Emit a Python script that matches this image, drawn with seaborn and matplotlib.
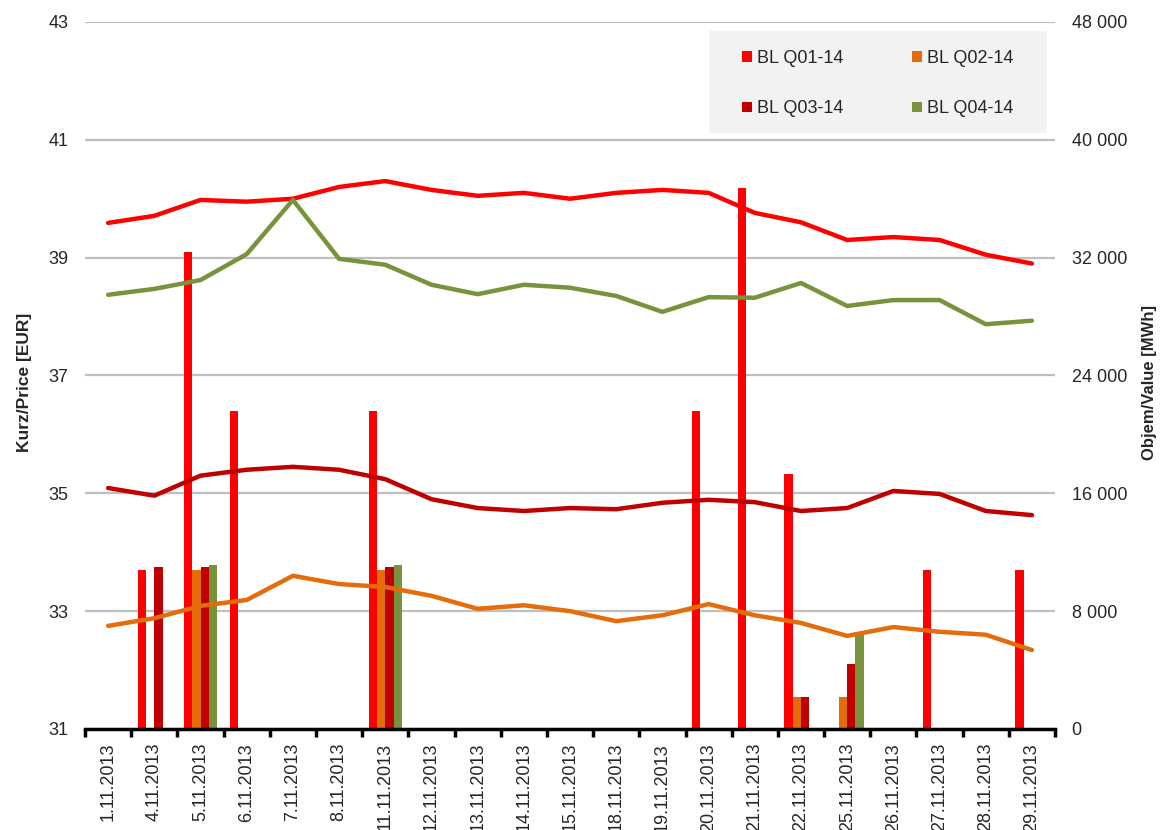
import matplotlib.pyplot as plt
import matplotlib.ticker as mticker
import numpy as np
import pandas as pd
import seaborn as sns
from matplotlib.patches import Rectangle

# data
dates = ["1.11.2013", "4.11.2013", "5.11.2013", "6.11.2013", "7.11.2013",
         "8.11.2013", "11.11.2013", "12.11.2013", "13.11.2013", "14.11.2013",
         "15.11.2013", "18.11.2013", "19.11.2013", "20.11.2013", "21.11.2013",
         "22.11.2013", "25.11.2013", "26.11.2013", "27.11.2013", "28.11.2013",
         "29.11.2013"]
contracts = ["BL Q01-14", "BL Q02-14", "BL Q03-14", "BL Q04-14"]
colors = ["#FF0000", "#E46C0A", "#C00000", "#77933C"]

# prices [EUR]
q1_price = [39.59, 39.71, 39.98, 39.95, 40.0, 40.2, 40.3, 40.15, 40.05, 40.1,
            40.0, 40.1, 40.15, 40.1, 39.76, 39.6, 39.3, 39.35, 39.3, 39.05, 38.9]
q2_price = [32.75, 32.88, 33.09, 33.19, 33.6, 33.46, 33.41, 33.26, 33.04, 33.1,
            33.0, 32.83, 32.93, 33.12, 32.93, 32.8, 32.58, 32.73, 32.65, 32.6, 32.34]
q3_price = [35.09, 34.96, 35.3, 35.4, 35.45, 35.4, 35.24, 34.9, 34.75, 34.7,
            34.75, 34.73, 34.84, 34.89, 34.85, 34.7, 34.75, 35.04, 34.99, 34.7, 34.63]
q4_price = [38.37, 38.47, 38.62, 39.06, 39.98, 38.98, 38.88, 38.54, 38.38, 38.54,
            38.49, 38.35, 38.08, 38.33, 38.32, 38.57, 38.18, 38.28, 38.28, 37.87, 37.93]

# volumes [MWh]
q1_vol = [0, 10800, 32400, 21600, 0, 0, 21600, 0, 0, 0,
          0, 0, 0, 21600, 36700, 17300, 0, 0, 10800, 0, 10800]
q2_vol = [0, 0, 10800, 0, 0, 0, 10800, 0, 0, 0,
          0, 0, 0, 0, 0, 2200, 2200, 0, 0, 0, 0]
q3_vol = [0, 11000, 11000, 0, 0, 0, 11000, 0, 0, 0,
          0, 0, 0, 0, 0, 2200, 4400, 0, 0, 0, 0]
q4_vol = [0, 0, 11100, 0, 0, 0, 11100, 0, 0, 0,
          0, 0, 0, 0, 0, 0, 6400, 0, 0, 0, 0]

palette = dict(zip(contracts, colors))

vol = pd.DataFrame({"date": dates, contracts[0]: q1_vol, contracts[1]: q2_vol,
                    contracts[2]: q3_vol, contracts[3]: q4_vol})
vol = vol.melt(id_vars="date", var_name="contract", value_name="volume")

price = pd.DataFrame({"pos": np.arange(len(dates)), contracts[0]: q1_price,
                      contracts[1]: q2_price, contracts[2]: q3_price,
                      contracts[3]: q4_price})
price = price.melt(id_vars="pos", var_name="contract", value_name="price")

sns.set_theme(style="white")
plt.rcParams["font.family"] = ["Liberation Sans", "DejaVu Sans"]

fig = plt.figure(figsize=(11.65, 8.3), dpi=100)
ax = fig.add_axes([0.073, 0.1217, 0.8326, 0.8518])
ax2 = ax.twinx()

# volume bars on the right axis
sns.barplot(data=vol, x="date", y="volume", hue="contract", order=dates,
            hue_order=contracts, palette=palette, width=0.72, saturation=1,
            linewidth=0, ax=ax2)
handles, labels = ax2.get_legend_handles_labels()
ax2.get_legend().remove()

# price lines on the left axis, drawn above the bars
sns.lineplot(data=price, x="pos", y="price", hue="contract",
             hue_order=contracts, palette=palette, linewidth=3.2, sort=False,
             legend=False, ax=ax)
ax.set_zorder(ax2.get_zorder() + 1)
ax.patch.set_visible(False)

ax.set_xlim(-0.5, len(dates) - 0.5)
ax.set_ylim(31, 43)
ax.set_yticks(np.arange(31, 44, 2))
ax2.set_ylim(0, 48000)
ax2.set_yticks(np.arange(0, 48001, 8000))
ax2.yaxis.set_major_formatter(
    mticker.FuncFormatter(lambda v, p: f"{int(v):,}".replace(",", " ")))

ax.set_xticks(np.arange(len(dates)))
ax.set_xticklabels(dates, rotation=90, fontsize=13)
ax.set_xticks(np.arange(len(dates) + 1) - 0.5, minor=True)
ax.tick_params(axis="x", which="major", length=0, pad=10)
ax.tick_params(axis="x", which="minor", length=6, width=2.5, color="black",
               direction="out", bottom=True)
ax.tick_params(axis="y", length=0, pad=12, labelsize=13)
ax2.tick_params(axis="y", length=0, pad=12, labelsize=13)

ax2.yaxis.grid(True, color="#BFBFBF", linewidth=1.6)
ax2.set_axisbelow(True)
ax.grid(False)

for s in ["top", "left", "right"]:
    ax.spines[s].set_visible(False)
for s in ax2.spines.values():
    s.set_visible(False)
ax.spines["bottom"].set_color("black")
ax.spines["bottom"].set_linewidth(2.5)

ax.set_xlabel("")
ax2.set_xlabel("")
ax.set_ylabel("Kurz/Price [EUR]", fontsize=12.5, fontweight="bold")
ax2.set_ylabel("Objem/Value [MWh]", fontsize=12, fontweight="bold")
ax.yaxis.set_label_coords(-0.055, 0.49)
ax2.yaxis.set_label_coords(1.09, 0.49)

# legend on a light grey panel
fig.add_artist(Rectangle((0.6086, 0.8398), 0.290, 0.1229,
                         transform=fig.transFigure, facecolor="#F2F2F2",
                         edgecolor="none", zorder=2))
order = [0, 2, 1, 3]
fig.legend([handles[i] for i in order], [labels[i] for i in order], ncol=2,
           loc="upper left", bbox_to_anchor=(733 / 1165, 1 - 41 / 830),
           frameon=False, fontsize=13, handlelength=0.55, handleheight=0.55,
           handletextpad=0.3, columnspacing=3.78, labelspacing=1.85,
           borderpad=0)

fig.savefig("out.png", dpi=100)
